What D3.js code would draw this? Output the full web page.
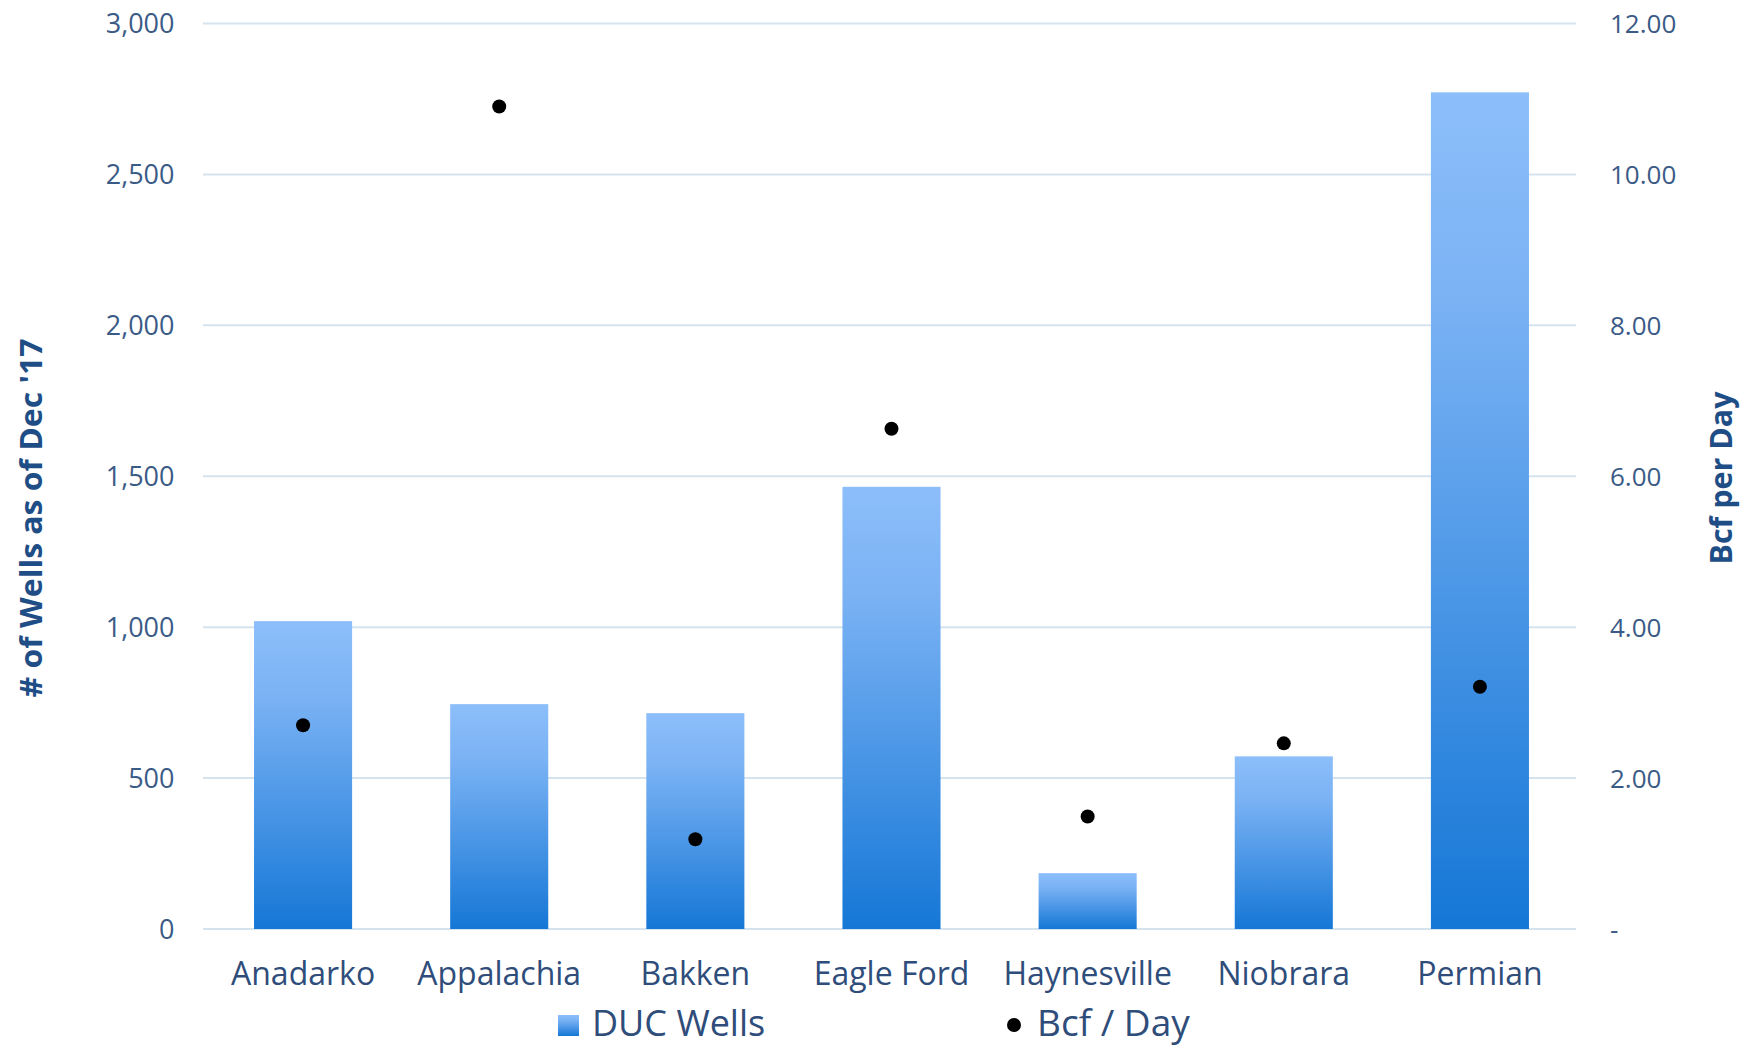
<!DOCTYPE html>
<html>
<head>
<meta charset="utf-8">
<script src="https://cdn.jsdelivr.net/npm/d3@7"></script>
<style>
  html, body { margin: 0; padding: 0; background: #fff; }
  svg { display: block; }
</style>
</head>
<body>
<svg id="chart" width="1743" height="1050"></svg>
<script>
const categories = ["Anadarko", "Appalachia", "Bakken", "Eagle Ford", "Haynesville", "Niobrara", "Permian"];
const ducWells = [1020, 745, 715, 1465, 185, 572, 2772];
const bcfPerDay = [2.70, 10.90, 1.19, 6.63, 1.49, 2.46, 3.21];
const leftTicks = [0, 500, 1000, 1500, 2000, 2500, 3000];
const rightTicks = [0, 2, 4, 6, 8, 10, 12];
const seriesNames = ["DUC Wells", "Bcf / Day"];

const svg = d3.select("#chart");
const W = 1743, H = 1050;
const plot = { left: 205, right: 1578, top: 23.5, bottom: 929 };
const font = "'Open Sans', 'Noto Sans', sans-serif";

const x = d3.scaleBand().domain(categories).range([plot.left, plot.right]).paddingInner(0.5).paddingOuter(0.25);
const yL = d3.scaleLinear().domain([0, 3000]).range([plot.bottom, plot.top]);
const yR = d3.scaleLinear().domain([0, 12]).range([plot.bottom, plot.top]);

// gradient
const defs = svg.append("defs");
const grad = defs.append("linearGradient").attr("id", "barGrad")
  .attr("x1", 0).attr("y1", 0).attr("x2", 0).attr("y2", 1);
grad.append("stop").attr("offset", "0%").attr("stop-color", "#8cbefa");
grad.append("stop").attr("offset", "25%").attr("stop-color", "#7ab2f4");
grad.append("stop").attr("offset", "100%").attr("stop-color", "#1577d6");

// gridlines
svg.append("g").selectAll("line").data(leftTicks).join("line")
  .attr("x1", plot.left - 2).attr("x2", plot.right - 2)
  .attr("y1", d => yL(d)).attr("y2", d => yL(d))
  .attr("stroke", "#d5e3ef").attr("stroke-width", 2);

// left axis labels
const leftAxis = d3.axisLeft(yL).tickValues(leftTicks).tickSize(0).tickPadding(0)
  .tickFormat(d3.format(","));
const gl = svg.append("g").attr("transform", `translate(${174.5},0)`).call(leftAxis);
gl.select(".domain").remove();
gl.selectAll("text").attr("font-family", font).attr("font-size", 27).attr("fill", "#3b5b87")
  .attr("dy", "0.35em");

// right axis labels
const rightAxis = d3.axisRight(yR).tickValues(rightTicks).tickSize(0).tickPadding(0)
  .tickFormat(d => d === 0 ? "-" : d3.format(".2f")(d));
const gr = svg.append("g").attr("transform", `translate(${1610},0)`).call(rightAxis);
gr.select(".domain").remove();
gr.selectAll("text").attr("font-family", font).attr("font-size", 26).attr("fill", "#3b5b87")
  .attr("dy", "0.35em");

// bars
svg.append("g").selectAll("rect").data(categories).join("rect")
  .attr("x", d => x(d))
  .attr("width", x.bandwidth())
  .attr("y", (d, i) => yL(ducWells[i]))
  .attr("height", (d, i) => yL(0) - yL(ducWells[i]))
  .attr("fill", "url(#barGrad)");

// dots
svg.append("g").selectAll("circle").data(categories).join("circle")
  .attr("cx", d => x(d) + x.bandwidth() / 2)
  .attr("cy", (d, i) => yR(bcfPerDay[i]))
  .attr("r", 7)
  .attr("fill", "#000");

// category labels
const xAxis = d3.axisBottom(x).tickSize(0).tickPadding(0);
const gx = svg.append("g").attr("transform", `translate(0,${plot.bottom})`).call(xAxis);
gx.select(".domain").remove();
gx.selectAll("text").attr("font-family", font).attr("font-size", 32).attr("fill", "#2f4d7a")
  .attr("dy", 0).attr("y", 56);

// axis titles
svg.append("text")
  .attr("transform", `translate(42,518) rotate(-90)`)
  .attr("text-anchor", "middle")
  .attr("font-family", font).attr("font-weight", "bold").attr("font-size", 30)
  .attr("fill", "#1f4e86")
  .attr("textLength", 359).attr("lengthAdjust", "spacingAndGlyphs")
  .text("# of Wells as of Dec '17");

svg.append("text")
  .attr("transform", `translate(1732,478) rotate(-90)`)
  .attr("text-anchor", "middle")
  .attr("font-family", font).attr("font-weight", "bold").attr("font-size", 30)
  .attr("fill", "#1f4e86")
  .attr("textLength", 173).attr("lengthAdjust", "spacingAndGlyphs")
  .text("Bcf per Day");

// legend
const leg = svg.append("g");
leg.append("rect").attr("x", 558).attr("y", 1015).attr("width", 21).attr("height", 21)
  .attr("fill", "url(#barGrad)");
leg.append("text").attr("x", 592).attr("y", 1036)
  .attr("font-family", font).attr("font-size", 36).attr("fill", "#2f4d7a")
  .text(seriesNames[0]);
leg.append("circle").attr("cx", 1014).attr("cy", 1025).attr("r", 7).attr("fill", "#000");
leg.append("text").attr("x", 1037).attr("y", 1036)
  .attr("font-family", font).attr("font-size", 37).attr("fill", "#2f4d7a")
  .text(seriesNames[1]);
</script>
</body>
</html>
